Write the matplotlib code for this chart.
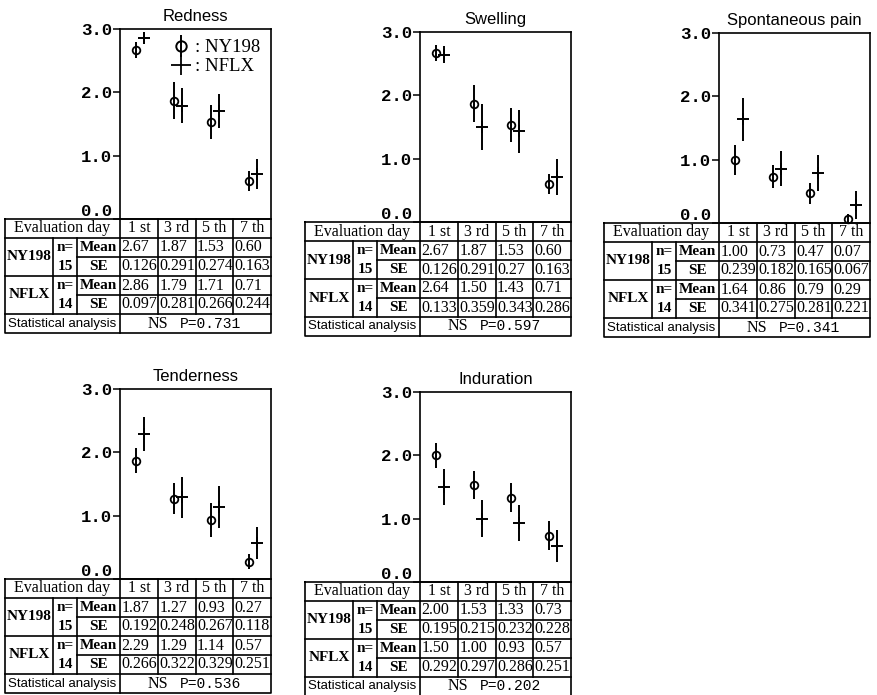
import matplotlib.pyplot as plt
from matplotlib import font_manager
from matplotlib.lines import Line2D
from matplotlib.legend_handler import HandlerTuple

days = ["1 st", "3 rd", "5 th", "7 th"]
groups = ["NY198", "NFLX"]
group_n = [15, 14]

redness_ny198_mean = [2.67, 1.87, 1.53, 0.60]
redness_ny198_se = [0.126, 0.291, 0.274, 0.163]
redness_nflx_mean = [2.86, 1.79, 1.71, 0.71]
redness_nflx_se = [0.097, 0.281, 0.266, 0.244]
redness_p = "0.731"

swelling_ny198_mean = [2.67, 1.87, 1.53, 0.60]
swelling_ny198_se = [0.126, 0.291, 0.27, 0.163]
swelling_nflx_mean = [2.64, 1.50, 1.43, 0.71]
swelling_nflx_se = [0.133, 0.359, 0.343, 0.286]
swelling_p = "0.597"

pain_ny198_mean = [1.00, 0.73, 0.47, 0.07]
pain_ny198_se = [0.239, 0.182, 0.165, 0.067]
pain_nflx_mean = [1.64, 0.86, 0.79, 0.29]
pain_nflx_se = [0.341, 0.275, 0.281, 0.221]
pain_p = "0.341"

tender_ny198_mean = [1.87, 1.27, 0.93, 0.27]
tender_ny198_se = [0.192, 0.248, 0.267, 0.118]
tender_nflx_mean = [2.29, 1.29, 1.14, 0.57]
tender_nflx_se = [0.266, 0.322, 0.329, 0.251]
tender_p = "0.536"

indur_ny198_mean = [2.00, 1.53, 1.33, 0.73]
indur_ny198_se = [0.195, 0.215, 0.232, 0.228]
indur_nflx_mean = [1.50, 1.00, 0.93, 0.57]
indur_nflx_se = [0.292, 0.297, 0.286, 0.251]
indur_p = "0.202"

panels = [
    ("Redness", redness_ny198_mean, redness_ny198_se, redness_nflx_mean, redness_nflx_se, redness_p),
    ("Swelling", swelling_ny198_mean, swelling_ny198_se, swelling_nflx_mean, swelling_nflx_se, swelling_p),
    ("Spontaneous pain", pain_ny198_mean, pain_ny198_se, pain_nflx_mean, pain_nflx_se, pain_p),
    ("Tenderness", tender_ny198_mean, tender_ny198_se, tender_nflx_mean, tender_nflx_se, tender_p),
    ("Induration", indur_ny198_mean, indur_ny198_se, indur_nflx_mean, indur_nflx_se, indur_p),
]

# posicion de cada panel (px): borde izq. de la tabla, borde sup. del grafico
origins = [(5, 29), (305, 32), (604, 33), (5, 389), (305, 392)]

W, H = 877, 695
left_w = 115      # parte izquierda de la tabla
box_w = 151
box_h = 190
row_h = 19
col_edges = [0, 48, 72, left_w]

fonts = {f.name for f in font_manager.fontManager.ttflist}
narrow = "Liberation Sans Narrow" if "Liberation Sans Narrow" in fonts else "Liberation Sans"
serif = "Liberation Serif"
mono = "Liberation Mono"

fig = plt.figure(figsize=(W / 100, H / 100), dpi=100)


def frac(x, y, w, h):
    return [x / W, 1 - (y + h) / H, w / W, h / H]


for i, (title, m1, s1, m2, s2, p) in enumerate(panels):
    x0, top = origins[i]

    # ---- grafico ----
    ax = fig.add_axes(frac(x0 + left_w, top, box_w, box_h))
    xs = [k + 0.5 for k in range(len(days))]
    ax.errorbar([x - 0.08 for x in xs], m1, yerr=s1, fmt="o", ms=5.5, mfc="none",
                mec="black", mew=1.3, ecolor="black", elinewidth=1.4, capsize=0,
                clip_on=False, zorder=3)
    ax.errorbar([x + 0.13 for x in xs], m2, yerr=s2, fmt="+", ms=8, mew=1.4,
                color="black", ecolor="black", elinewidth=1.4, capsize=0,
                clip_on=False, zorder=3)
    ax.set_xlim(0, len(days))
    ax.set_ylim(0, 3)
    ax.set_xticks([])
    ax.set_yticks([0, 1, 2, 3])
    ax.set_yticklabels(["0.0", "1.0", "2.0", "3.0"], fontfamily=mono,
                       fontweight="bold", fontsize=12.5)
    ax.yaxis.get_major_ticks()[0].label1.set_verticalalignment("bottom")
    ax.tick_params(axis="y", direction="out", length=5, width=1.1, pad=0.5)
    for sp in ax.spines.values():
        sp.set_linewidth(1.2)
    ax.set_title(title, fontfamily="Liberation Sans", fontsize=12, pad=6)

    if i == 0:
        h1 = (Line2D([], [], marker="o", ms=7.5, mfc="none", mec="black", mew=1.4, ls="none"),
              Line2D([], [], marker="|", ms=16, mew=1.4, color="black", ls="none"))
        h2 = Line2D([], [], marker="+", ms=15, mew=1.3, color="black", ls="none")
        ax.legend([h1, h2], [": NY198", ": NFLX"],
                  handler_map={tuple: HandlerTuple(ndivide=1)},
                  loc="upper right", frameon=False, handlelength=0.8,
                  handletextpad=0.35, labelspacing=0.1, borderaxespad=0.15,
                  prop={"family": serif, "size": 13.5})

    # ---- tabla ----
    tw = left_w + box_w
    th = 6 * row_h
    tax = fig.add_axes(frac(x0, top + box_h, tw, th))
    tax.set_xlim(0, tw)
    tax.set_ylim(th, 0)
    tax.axis("off")
    cw = box_w / len(days)
    data_edges = [left_w + k * cw for k in range(len(days) + 1)]

    lk = dict(color="black", lw=1.2, solid_capstyle="projecting", clip_on=False)
    # contorno y lineas
    tax.plot([0, tw, tw, 0, 0], [0, 0, th, th, 0], **lk)
    for r in [1, 3, 5]:
        tax.plot([0, tw], [r * row_h, r * row_h], **lk)
    for r in [2, 4]:
        tax.plot([col_edges[2], tw], [r * row_h, r * row_h], **lk)
    tax.plot([left_w, left_w], [0, th], **lk)
    for xe in col_edges[1:3]:
        tax.plot([xe, xe], [row_h, 5 * row_h], **lk)
    for xe in data_edges[1:-1]:
        tax.plot([xe, xe], [0, 5 * row_h], **lk)

    tk = dict(fontfamily=serif, fontsize=11.5, ha="center", va="center")
    tb = {**tk, "fontweight": "bold", "fontsize": 11}
    tax.text(left_w / 2, row_h / 2, "Evaluation day", **tk)
    for k, d in enumerate(days):
        tax.text(data_edges[k] + cw / 2, row_h / 2, d, **tk)

    for g, (name, n, means, ses) in enumerate(zip(groups, group_n, [m1, m2], [s1, s2])):
        y_top = (1 + 2 * g) * row_h
        tax.text(col_edges[1] / 2, y_top + row_h, name, **tb)
        tax.text((col_edges[1] + col_edges[2]) / 2, y_top + row_h / 2, "n=", **tb)
        tax.text((col_edges[1] + col_edges[2]) / 2, y_top + 1.5 * row_h, str(n), **tb)
        tax.text((col_edges[2] + col_edges[3]) / 2, y_top + row_h / 2, "Mean", **tb)
        tax.text((col_edges[2] + col_edges[3]) / 2, y_top + 1.5 * row_h, "SE", **tb)
        for k in range(len(days)):
            tax.text(data_edges[k] + 1.5, y_top + row_h / 2, f"{means[k]:.2f}",
                     **{**tk, "ha": "left"})
            tax.text(data_edges[k] + 1.5, y_top + 1.5 * row_h, str(ses[k]),
                     **{**tk, "ha": "left"})

    tax.text(left_w / 2, 5.5 * row_h, "Statistical analysis", fontfamily=narrow,
             fontsize=9.5, ha="center", va="center")
    tax.text(left_w + 0.25 * box_w, 5.5 * row_h, "NS", **tk)
    tax.text(left_w + 0.6 * box_w, 5.5 * row_h, "P=" + p, fontfamily=mono,
             fontsize=10.5, ha="center", va="center")

plt.savefig("out.png", dpi=100)
